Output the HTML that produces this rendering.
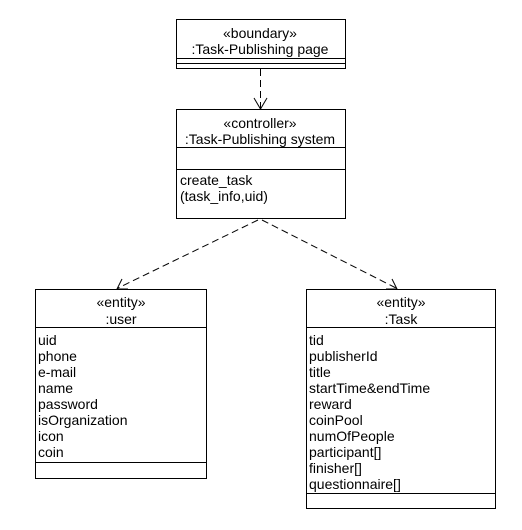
<!DOCTYPE html>
<html><head><style>body{margin:0;background:#fff}svg{display:block}</style></head><body>
<svg width="522" height="530" xmlns="http://www.w3.org/2000/svg" font-family="Liberation Sans, Arial, sans-serif" font-size="14" fill="#000">
<g fill="none" stroke="#000" stroke-width="1">
<rect x="176.5" y="19.5" width="169" height="49"/>
<line x1="176" y1="58.5" x2="346" y2="58.5"/>
<line x1="176" y1="63.5" x2="346" y2="63.5"/>
<rect x="176.5" y="109.5" width="169" height="109"/>
<line x1="176" y1="147.5" x2="346" y2="147.5"/>
<line x1="176" y1="169.5" x2="346" y2="169.5"/>
<rect x="35.5" y="289.5" width="171" height="189"/>
<line x1="35" y1="327.5" x2="207" y2="327.5"/>
<line x1="35" y1="462.5" x2="207" y2="462.5"/>
<rect x="306.5" y="289.5" width="189" height="219"/>
<line x1="306" y1="327.5" x2="496" y2="327.5"/>
<line x1="306" y1="493.5" x2="496" y2="493.5"/>
<g stroke-dasharray="7,4">
<line x1="260.5" y1="69" x2="260.5" y2="108"/>
<line x1="258" y1="220" x2="118" y2="288"/>
<line x1="262" y1="220" x2="396" y2="288"/>
</g>
<polyline points="254,98 260.5,109 267,98"/>
<polyline points="122,279 117,289 128,289"/>
<polyline points="386,289 397,289 392,279"/>
</g>
<g text-anchor="middle">
<text x="260" y="38">«boundary»</text>
<text x="260" y="54">:Task-Publishing page</text>
<text x="260" y="128">«controller»</text>
<text x="260" y="144">:Task-Publishing system</text>
<text x="121" y="307">«entity»</text>
<text x="121" y="324">:user</text>
<text x="401" y="307">«entity»</text>
<text x="401" y="324">:Task</text>
</g>
<text x="180" y="185">create_task</text>
<text x="180" y="201">(task_info,uid)</text>
<g>
<text x="38" y="345">uid</text>
<text x="38" y="361">phone</text>
<text x="38" y="377">e-mail</text>
<text x="38" y="393">name</text>
<text x="38" y="409">password</text>
<text x="38" y="425">isOrganization</text>
<text x="38" y="441">icon</text>
<text x="38" y="457">coin</text>
</g>
<g>
<text x="309" y="345">tid</text>
<text x="309" y="361">publisherId</text>
<text x="309" y="377">title</text>
<text x="309" y="393">startTime&amp;endTime</text>
<text x="309" y="409">reward</text>
<text x="309" y="425">coinPool</text>
<text x="309" y="441">numOfPeople</text>
<text x="309" y="457">participant[]</text>
<text x="309" y="473">finisher[]</text>
<text x="309" y="489">questionnaire[]</text>
</g>
</svg>
</body></html>
